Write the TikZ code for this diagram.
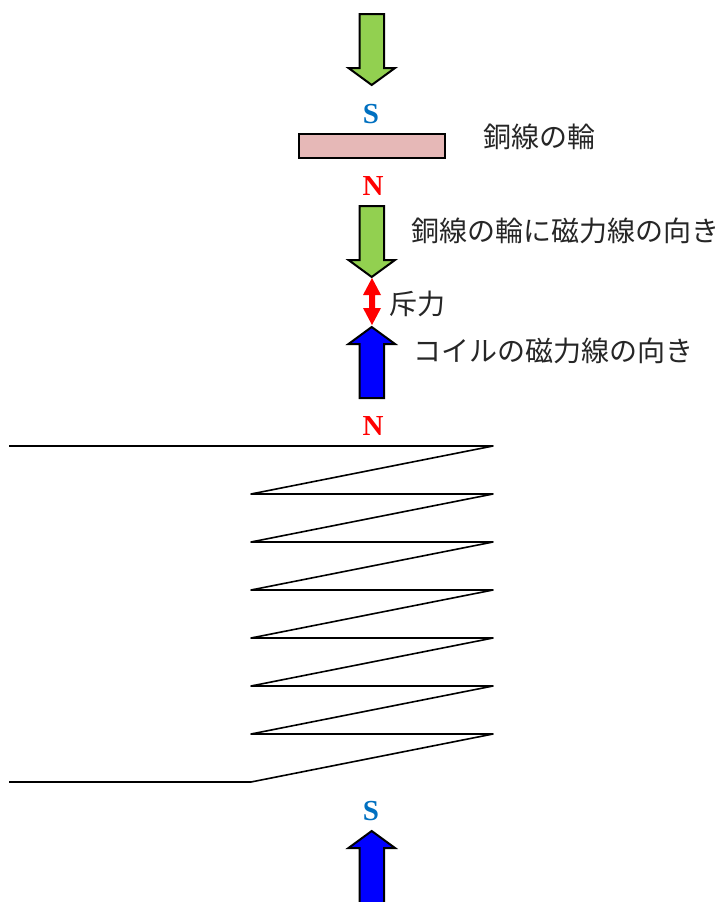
\documentclass[tikz,border=0pt]{standalone}
\usepackage{fontspec}
\setmainfont{Liberation Serif}
\newfontfamily\jpfont{Noto Sans CJK JP}
\definecolor{arrowgreen}{HTML}{92D050}
\definecolor{ringpink}{HTML}{E6B8B7}
\definecolor{southblue}{HTML}{0070C0}
\definecolor{jptext}{HTML}{262626}
\tikzset{
  x=1pt,y=-1pt,
  fatarrow/.style={draw=black,line width=2pt,line join=miter,miter limit=10},
  ring/.style={draw=black,line width=2pt,fill=ringpink},
  coilwire/.style={draw=black,line width=1.6pt,line join=round},
  jplabel/.style={inner sep=0pt,outer sep=0pt,text=jptext,font=\jpfont\fontsize{28}{30}\selectfont},
  pole/.style={inner sep=0pt,outer sep=0pt,font=\bfseries\fontsize{29}{30}\selectfont},
}
\begin{document}
\begin{tikzpicture}
\useasboundingbox (0,0) rectangle (719,902);
% green arrows
\path[fatarrow,fill=arrowgreen] (359.5,14) -- (384,14) -- (384,68) -- (395,68) -- (371.7,85) -- (348.5,68) -- (359.5,68) -- cycle;
\path[fatarrow,fill=arrowgreen] (359.5,206) -- (384,206) -- (384,260) -- (395,260) -- (371.7,277) -- (348.5,260) -- (359.5,260) -- cycle;
% ring
\path[ring] (299,134) rectangle (444.5,158);
% red double arrow
\fill[red] (372,278) -- (381,295) -- (375,295) -- (375,308) -- (381,308) -- (372,325) -- (363,308) -- (369,308) -- (369,295) -- (363,295) -- cycle;
% blue arrows
\path[fatarrow,fill=blue] (359.5,398) -- (384,398) -- (384,344) -- (395,344) -- (371.7,327) -- (348.5,344) -- (359.5,344) -- cycle;
\path[fatarrow,fill=blue] (359.5,904) -- (359.5,848) -- (348.5,848) -- (371.7,831) -- (395,848) -- (384,848) -- (384,904);
% coil
\draw[coilwire] (9,446) -- (251,446) -- (493,446) -- (251,494) -- (493,494) -- (251,542) -- (493,542) -- (251,590) -- (493,590) -- (251,638) -- (493,638) -- (251,686) -- (493,686) -- (251,734) -- (493,734) -- (251,782) -- (9,782);
% poles
\node[pole,text=southblue] (s1) at (371,114.5) {S};
\node[pole,text=red] (n1) at (373,186) {N};
\node[pole,text=red] (n2) at (373,426) {N};
\node[pole,text=southblue] (s2) at (371,811) {S};
% labels
\node[jplabel,anchor=west] (ringlabel) at (483.5,137) {銅線の輪};
\node[jplabel,anchor=west] (ringfield) at (411,231) {銅線の輪に磁力線の向き};
\node[jplabel,anchor=west] (repulse) at (389.5,304) {斥力};
\node[jplabel,anchor=west] (coilfield) at (413,351) {コイルの磁力線の向き};
\end{tikzpicture}
\end{document}
